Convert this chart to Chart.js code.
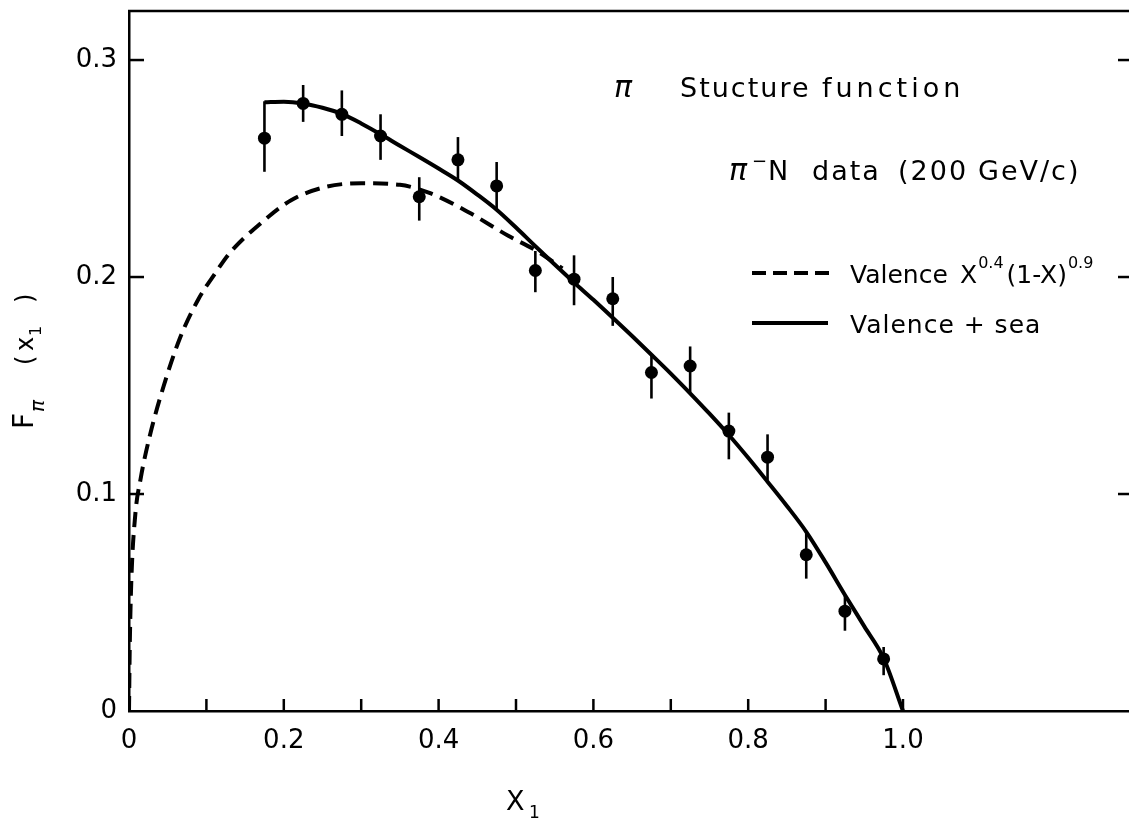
<!DOCTYPE html>
<html>
<head>
<meta charset="utf-8">
<script src="https://cdn.jsdelivr.net/npm/chart.js@4"></script>
<style>
  body { margin: 0; background: #fff; }
  canvas { display: block; }
</style>
</head>
<body>
<canvas id="chart" width="1129" height="830"></canvas>
<script>
// pi-N data points (x1, F_pi) with error bars
const dataX = [0.175, 0.225, 0.275, 0.325, 0.375, 0.425, 0.475, 0.525, 0.575, 0.625, 0.675, 0.725, 0.775, 0.825, 0.875, 0.925, 0.975];
const dataF = [0.264, 0.280, 0.275, 0.265, 0.237, 0.254, 0.242, 0.203, 0.199, 0.190, 0.156, 0.159, 0.129, 0.117, 0.072, 0.046, 0.024];
const errUp = [0.017, 0.0085, 0.011, 0.010, 0.009, 0.0105, 0.011, 0.009, 0.011, 0.010, 0.008, 0.009, 0.0085, 0.0105, 0.010, 0.007, 0.0055];
const errDown = [0.0155, 0.0085, 0.010, 0.011, 0.011, 0.0095, 0.011, 0.010, 0.012, 0.0125, 0.012, 0.012, 0.013, 0.0105, 0.011, 0.009, 0.0075];

// Valence + sea (solid curve)
const seaX = [0.175, 0.2, 0.225, 0.25, 0.275, 0.3, 0.325, 0.35, 0.375, 0.4, 0.425, 0.45, 0.475, 0.5, 0.525, 0.55, 0.575, 0.6, 0.625, 0.65, 0.675, 0.7, 0.725, 0.75, 0.775, 0.8, 0.825, 0.85, 0.875, 0.9, 0.925, 0.95, 0.975, 1.0];
const seaF = [0.2805, 0.2808, 0.2800, 0.278, 0.2752, 0.2708, 0.2658, 0.2605, 0.2553, 0.2500, 0.2445, 0.238, 0.231, 0.2228, 0.2142, 0.2058, 0.1975, 0.1895, 0.1812, 0.1728, 0.1642, 0.1555, 0.1464, 0.137, 0.1272, 0.1167, 0.1057, 0.0945, 0.0826, 0.0685, 0.0535, 0.039, 0.0243, 0.0];

// Valence x^0.4 (1-x)^0.9 (dashed curve)
const valX = [0, 0.001, 0.003, 0.008, 0.015, 0.027, 0.045, 0.066, 0.09, 0.11, 0.13, 0.17, 0.21, 0.255, 0.3, 0.35, 0.39, 0.44, 0.49, 0.525, 0.56];
const valF = [0, 0.03, 0.06, 0.09, 0.107, 0.127, 0.150, 0.172, 0.190, 0.201, 0.211, 0.2247, 0.2355, 0.2416, 0.2432, 0.2425, 0.2385, 0.2296, 0.219, 0.2124, 0.204];

// axis ticks
const xTickLabels = [0, 0.2, 0.4, 0.6, 0.8, 1.0];
const xTickMarks = [0.1, 0.2, 0.3, 0.4, 0.5, 0.6, 0.7, 0.8, 0.9, 1.0];
const yTickLabels = [0, 0.1, 0.2, 0.3];
const yTickMarks = [0.1, 0.2, 0.3];

const FONT = "'DejaVu Sans', sans-serif";

const zip = (xs, ys) => xs.map((x, i) => ({ x: x, y: ys[i] }));

function put(ctx, s, px, py, size, style) {
    ctx.font = (style || 'normal') + ' ' + size + 'px ' + FONT;
    ctx.fillText(s, px, py);
    return px + ctx.measureText(s).width;
}

function line(ctx, x1, y1, x2, y2) {
    ctx.beginPath();
    ctx.moveTo(x1, y1);
    ctx.lineTo(x2, y2);
    ctx.stroke();
}

// error bars
const errorBars = {
    id: 'errorBars',
    afterDatasetsDraw(chart) {
        const ctx = chart.ctx;
        const xs = chart.scales.x, ys = chart.scales.y;
        ctx.save();
        ctx.strokeStyle = '#000';
        ctx.lineWidth = 2.6;
        dataX.forEach((v, i) => {
            const px = xs.getPixelForValue(v);
            line(ctx, px, ys.getPixelForValue(dataF[i] + errUp[i]), px, ys.getPixelForValue(dataF[i] - errDown[i]));
        });
        ctx.restore();
    }
};

// frame, inward ticks, titles and legend
const decorations = {
    id: 'decorations',
    afterDraw(chart) {
        const ctx = chart.ctx;
        const { left, right, top, bottom } = chart.chartArea;
        const xs = chart.scales.x, ys = chart.scales.y;
        ctx.save();
        ctx.strokeStyle = '#000';
        ctx.fillStyle = '#000';
        ctx.lineWidth = 2.5;
        line(ctx, left - 1, top, right, top);
        xTickMarks.forEach(v => {
            const px = xs.getPixelForValue(v);
            line(ctx, px, bottom, px, bottom - 12);
        });
        yTickMarks.forEach(v => {
            const py = ys.getPixelForValue(v);
            line(ctx, left, py, left + 15, py);
            line(ctx, right - 11, py, right, py);
        });

        // text in the plot
        ctx.textBaseline = 'alphabetic';
        ctx.letterSpacing = '2px';
        put(ctx, 'π', 614, 97, 30, 'italic');
        put(ctx, 'Stucture', 680, 97, 27);
        ctx.letterSpacing = '4px';
        put(ctx, 'function', 822, 97, 27);
        ctx.letterSpacing = '2px';

        put(ctx, 'π', 729, 180, 30, 'italic');
        put(ctx, '−', 752, 167, 18);
        put(ctx, 'N', 768, 180, 27);
        put(ctx, 'data', 812, 180, 27);
        put(ctx, '(200', 898, 180, 27);
        put(ctx, 'GeV/c)', 978, 180, 27);
        ctx.letterSpacing = '0px';

        // legend
        ctx.lineWidth = 4;
        ctx.setLineDash([14, 7]);
        line(ctx, 752, 273, 830, 273);
        ctx.setLineDash([]);
        line(ctx, 752, 323, 828, 323);
        put(ctx, 'Valence', 850, 283, 25);
        let px = put(ctx, 'X', 960, 283, 25);
        px = put(ctx, '0.4', px + 1, 268, 16);
        px = put(ctx, '(1-X)', px + 3, 283, 25);
        put(ctx, '0.9', px + 1, 268, 16);
        ctx.letterSpacing = '1px';
        put(ctx, 'Valence + sea', 850, 333, 25);
        ctx.letterSpacing = '0px';

        // x title
        put(ctx, 'X', 506, 810, 27);
        put(ctx, '1', 529, 818, 17);

        // y title, rotated
        ctx.translate(33, 429);
        ctx.rotate(-Math.PI / 2);
        put(ctx, 'F', 0, 0, 28);
        put(ctx, 'π', 17, 11, 20, 'italic');
        put(ctx, '(', 64, 0, 24);
        put(ctx, 'x', 78, 0, 24);
        put(ctx, '1', 93, 8, 16);
        put(ctx, ')', 126, 0, 24);
        ctx.restore();
    }
};

const canvas = document.getElementById('chart');

let chart = new Chart(canvas, {
    type: 'scatter',
    data: {
        datasets: [{
            label: 'data',
            data: zip(dataX, dataF),
            pointRadius: 6.5,
            pointBackgroundColor: '#000',
            pointBorderWidth: 0,
            showLine: false
        }, {
            label: 'Valence + sea',
            data: zip(seaX, seaF),
            showLine: true,
            pointRadius: 0,
            borderColor: '#000',
            borderWidth: 4,
            cubicInterpolationMode: 'monotone',
            fill: false
        }, {
            label: 'Valence',
            data: zip(valX, valF),
            showLine: true,
            pointRadius: 0,
            borderColor: '#000',
            borderWidth: 4,
            borderDash: [15, 8],
            cubicInterpolationMode: 'monotone',
            fill: false
        }]
    },
    options: {
        responsive: false,
        animation: false,
        layout: {
            autoPadding: false,
            padding: { top: 11, right: 0, left: 0, bottom: 0 }
        },
        plugins: {
            legend: { display: false },
            tooltip: { enabled: false }
        },
        scales: {
            x: {
                type: 'linear',
                min: 0,
                max: 1.292,
                afterFit: s => {
                    s.height = 119;
                    s.paddingLeft = 0;
                    s.paddingRight = 0;
                },
                afterBuildTicks: s => { s.ticks = xTickLabels.map(v => ({ value: v })); },
                grid: { display: false, drawTicks: false },
                border: { display: true, color: '#000', width: 2.5 },
                ticks: {
                    autoSkip: false,
                    maxRotation: 0,
                    padding: 15,
                    color: '#000',
                    font: { family: FONT, size: 26 },
                    callback: v => v === 0 ? '0' : v.toFixed(1)
                }
            },
            y: {
                type: 'linear',
                min: 0,
                max: 0.3226,
                afterFit: s => {
                    s.width = 129;
                    s.paddingTop = 0;
                    s.paddingBottom = 0;
                },
                afterBuildTicks: s => { s.ticks = yTickLabels.map(v => ({ value: v })); },
                grid: { display: false, drawTicks: false },
                border: { display: true, color: '#000', width: 2.5 },
                ticks: {
                    padding: 12,
                    color: '#000',
                    font: { family: FONT, size: 26 },
                    callback: v => v === 0 ? '0' : v.toFixed(1)
                }
            }
        }
    },
    plugins: [errorBars, decorations]
});
</script>
</body>
</html>
